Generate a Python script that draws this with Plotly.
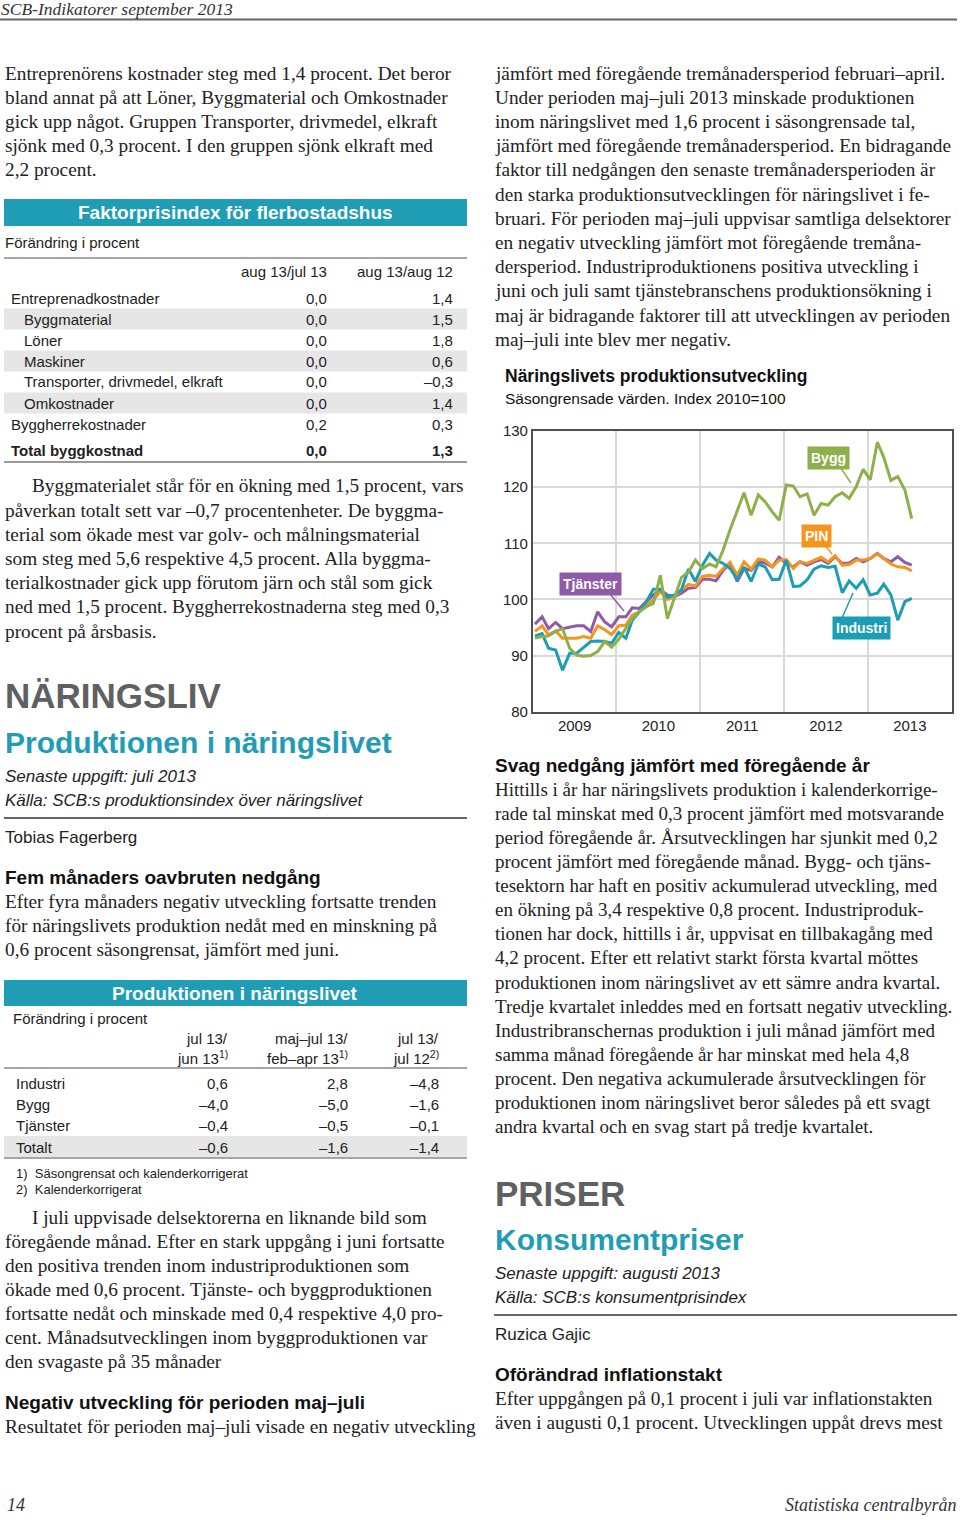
import plotly.graph_objects as go
import pandas as pd

W, H = 960, 1520
SERIF = "Liberation Serif"
SANS = "Liberation Sans"
TEAL = "#1f9db5"

# ---------------- chart data (index 2010=100, monthly Jan 2009 - Jul 2013) ----------------
months = pd.date_range("2009-01-01", periods=55, freq="MS") + pd.Timedelta(days=10)

tjanster = [95.6, 96.9, 94.8, 95.9, 94.8, 95.0, 95.3, 95.3, 94.3, 97.8, 96.0, 95.1,
            96.9, 96.9, 98.5, 98.4, 99.6, 100.8, 101.7, 100.8, 100.5, 101.1, 102.0, 102.1,
            103.6, 103.6, 103.3, 105.2, 106.4, 103.2, 105.5, 105.2, 106.7, 106.5, 105.8, 107.5,
            106.4, 105.8, 106.7, 106.1, 106.7, 107.1, 106.4, 107.6, 106.4, 106.5, 107.3, 106.7,
            107.3, 108.2, 107.3, 106.7, 107.6, 106.6, 106.1]
pin = [94.3, 95.3, 93.7, 94.4, 93.1, 93.1, 93.1, 93.4, 93.1, 95.3, 94.6, 93.7,
       95.3, 95.4, 97.2, 97.8, 99.0, 99.9, 101.4, 100.0, 100.5, 101.7, 102.7, 102.4,
       104.1, 104.3, 104.1, 105.5, 106.6, 104.3, 106.7, 105.4, 107.2, 107.0, 105.8, 107.0,
       107.1, 105.5, 106.7, 106.4, 107.0, 107.5, 106.7, 107.8, 106.1, 106.2, 107.0, 107.0,
       107.3, 108.1, 107.3, 106.3, 105.8, 105.7, 105.1]
industri = [93.5, 93.9, 91.3, 91.0, 87.4, 90.4, 90.4, 91.5, 92.5, 92.6, 92.5, 92.2,
            94.1, 93.1, 96.3, 97.8, 99.6, 101.8, 101.8, 100.4, 100.8, 101.7, 105.4, 103.2,
            106.1, 108.2, 107.0, 106.4, 105.5, 103.6, 105.8, 103.2, 106.3, 105.8, 103.5, 103.6,
            107.0, 102.3, 102.4, 103.5, 105.4, 106.0, 105.7, 105.9, 101.2, 103.3, 102.0, 103.5,
            100.8, 101.1, 102.7, 100.8, 96.3, 99.6, 100.2]
bygg = [93.1, 93.4, 93.5, 94.3, 94.8, 91.3, 90.1, 89.9, 90.0, 90.7, 92.5, 91.5,
        92.9, 94.8, 96.6, 97.8, 98.7, 99.3, 104.3, 96.6, 100.5, 103.9, 104.9, 107.0,
        105.5, 106.3, 105.8, 108.8, 112.4, 115.9, 119.0, 115.0, 118.6, 117.4, 115.6, 114.1,
        120.4, 120.2, 118.3, 118.8, 115.0, 117.1, 116.8, 118.3, 119.0, 118.0, 120.1, 123.2,
        121.3, 128.0, 125.3, 121.2, 121.9, 119.5, 114.4]

series_names = ["Tjänster", "PIN", "Industri", "Bygg"]
series_vals = [tjanster, pin, industri, bygg]
series_cols = ["#8e5ba6", "#f7941d", "#1a9db5", "#8db04a"]

# ---------------- table data ----------------
t1_rows = ["Entreprenadkostnader", "Byggmaterial", "Löner", "Maskiner",
           "Transporter, drivmedel, elkraft", "Omkostnader", "Byggherrekostnader", "Total byggkostnad"]
t1_indent = [0, 1, 1, 1, 1, 1, 0, 0]
t1_col1 = ["0,0", "0,0", "0,0", "0,0", "0,0", "0,0", "0,2", "0,0"]
t1_col2 = ["1,4", "1,5", "1,8", "0,6", "–0,3", "1,4", "0,3", "1,3"]
t1_heads = ["aug 13/jul 13", "aug 13/aug 12"]

t2_rows = ["Industri", "Bygg", "Tjänster", "Totalt"]
t2_col1 = ["0,6", "–4,0", "–0,4", "–0,6"]
t2_col2 = ["2,8", "–5,0", "–0,5", "–1,6"]
t2_col3 = ["–4,8", "–1,6", "–0,1", "–1,4"]
t2_heads = [("jul 13/", "jun 13<sup>1)</sup>"), ("maj–jul 13/", "feb–apr 13<sup>1)</sup>"),
            ("jul 13/", "jul 12<sup>2)</sup>")]

fig = go.Figure()
for name, vals, col in zip(series_names, series_vals, series_cols):
    fig.add_trace(go.Scatter(x=months, y=vals, mode="lines", name=name,
                             line=dict(color=col, width=3), hoverinfo="skip"))


def px(x):
    return x / W


def py(y):
    return 1 - y / H


annotations = []
shapes = []


def txt(x, y, s, size, family=SANS, color="#222", anchor="left"):
    annotations.append(dict(xref="paper", yref="paper", x=px(x), y=py(y), text=s,
                            showarrow=False, xanchor=anchor, yanchor="middle",
                            font=dict(family=family, size=size, color=color)))


def hline(x0, x1, y, color="#777", width=1.5):
    shapes.append(dict(type="line", xref="paper", yref="paper", x0=px(x0), x1=px(x1),
                       y0=py(y), y1=py(y), line=dict(color=color, width=width)))


def rect(x0, x1, y0, y1, color):
    shapes.append(dict(type="rect", xref="paper", yref="paper", x0=px(x0), x1=px(x1),
                       y0=py(y1), y1=py(y0), fillcolor=color, line=dict(width=0), layer="below"))


def para(x, y0, lines, step=24.2, size=19.3, indent_first=0):
    for i, s in enumerate(lines):
        txt(x + (indent_first if i == 0 else 0), y0 + i * step, s, size, SERIF, "#222")


# ---------------- page header / footer ----------------
txt(-1, 9.5, "<i>SCB-Indikatorer september 2013</i>", 17.5, SERIF, "#333")
hline(0, 957, 19.5, "#666", 2)
txt(5, 1505, "<i>14</i>", 18, SERIF, "#333")
txt(958, 1505, "<i>Statistiska centralbyrån</i>", 18, SERIF, "#333", anchor="right")

# ---------------- left column ----------------
para(3, 73, ["Entreprenörens kostnader steg med 1,4 procent. Det beror",
             "bland annat på att Löner, Byggmaterial och Omkostnader",
             "gick upp något. Gruppen Transporter, drivmedel, elkraft",
             "sjönk med 0,3 procent. I den gruppen sjönk elkraft med",
             "2,2 procent."])

rect(4, 467, 199, 226, TEAL)
txt(235, 212.5, "<b>Faktorprisindex för flerbostadshus</b>", 19, SANS, "white", anchor="center")
txt(3, 242, "Förändring i procent", 15, SANS, "#222")
hline(4, 467, 258, "#888", 1.5)
txt(329, 271, t1_heads[0], 15, SANS, "#222", anchor="right")
txt(455, 271, t1_heads[1], 15, SANS, "#222", anchor="right")
t1_y = [298, 319, 340, 361, 382, 403, 425, 451]
for i, (lab, ind, a, b) in enumerate(zip(t1_rows, t1_indent, t1_col1, t1_col2)):
    if i in (1, 3, 5):
        rect(4, 467, t1_y[i] - 10.5, t1_y[i] + 10.5, "#e6e6e6")
    bold = i == len(t1_rows) - 1
    f = (lambda s: "<b>" + s + "</b>") if bold else (lambda s: s)
    txt(9 + 13 * ind, t1_y[i], f(lab), 15, SANS, "#222")
    txt(329, t1_y[i], f(a), 15, SANS, "#222", anchor="right")
    txt(455, t1_y[i], f(b), 15, SANS, "#222", anchor="right")
hline(4, 467, 462, "#777", 1.5)

para(3, 486, ["Byggmaterialet står för en ökning med 1,5 procent, vars",
              "påverkan totalt sett var –0,7 procentenheter. De byggma-",
              "terial som ökade mest var golv- och målningsmaterial",
              "som steg med 5,6 respektive 4,5 procent. Alla byggma-",
              "terialkostnader gick upp förutom järn och stål som gick",
              "ned med 1,5 procent. Byggherrekostnaderna steg med 0,3",
              "procent på årsbasis."], indent_first=27)

txt(3, 695, "<b>NÄRINGSLIV</b>", 35, SANS, "#5f6062")
txt(3, 742, "<b>Produktionen i näringslivet</b>", 30, SANS, TEAL)
txt(3, 776, "<i>Senaste uppgift: juli 2013</i>", 17, SANS, "#222")
txt(3, 801, "<i>Källa: SCB:s produktionsindex över näringslivet</i>", 17, SANS, "#222")
hline(4, 467, 818, "#666", 2)
txt(3, 837, "Tobias Fagerberg", 17, SANS, "#222")
txt(3, 877, "<b>Fem månaders oavbruten nedgång</b>", 19, SANS, "#111")
para(3, 901, ["Efter fyra månaders negativ utveckling fortsatte trenden",
              "för näringslivets produktion nedåt med en minskning på",
              "0,6 procent säsongrensat, jämfört med juni."])

rect(4, 467, 980, 1006, TEAL)
txt(235, 993, "<b>Produktionen i näringslivet</b>", 19, SANS, "white", anchor="center")
txt(11, 1018, "Förändring i procent", 15, SANS, "#222")
t2_x = [230, 350, 441]
for (h1, h2), xx in zip(t2_heads, t2_x):
    txt(xx, 1038, h1, 15, SANS, "#222", anchor="right")
    txt(xx, 1057, h2, 15, SANS, "#222", anchor="right")
hline(4, 467, 1068, "#888", 1.5)
t2_y = [1083, 1104, 1125, 1147]
rect(4, 467, 1136, 1157, "#e6e6e6")
for i, lab in enumerate(t2_rows):
    txt(14, t2_y[i], lab, 15, SANS, "#222")
    for col, xx in zip([t2_col1, t2_col2, t2_col3], t2_x):
        txt(xx, t2_y[i], col[i], 15, SANS, "#222", anchor="right")
hline(4, 467, 1158, "#888", 1.5)
txt(14, 1173, "1)  Säsongrensat och kalenderkorrigerat", 13, SANS, "#222")
txt(14, 1189, "2)  Kalenderkorrigerat", 13, SANS, "#222")

para(3, 1217, ["I juli uppvisade delsektorerna en liknande bild som",
               "föregående månad. Efter en stark uppgång i juni fortsatte",
               "den positiva trenden inom industriproduktionen som",
               "ökade med 0,6 procent. Tjänste- och byggproduktionen",
               "fortsatte nedåt och minskade med 0,4 respektive 4,0 pro-",
               "cent. Månadsutvecklingen inom byggproduktionen var",
               "den svagaste på 35 månader"], step=24, indent_first=27)
txt(3, 1402, "<b>Negativ utveckling för perioden maj–juli</b>", 19, SANS, "#111")
para(3, 1426, ["Resultatet för perioden maj–juli visade en negativ utveckling"])

# ---------------- right column ----------------
para(493, 73, ["jämfört med föregående tremånadersperiod februari–april.",
               "Under perioden maj–juli 2013 minskade produktionen",
               "inom näringslivet med 1,6 procent i säsongrensade tal,",
               "jämfört med föregående tremånadersperiod. En bidragande",
               "faktor till nedgången den senaste tremånadersperioden är",
               "den starka produktionsutvecklingen för näringslivet i fe-",
               "bruari. För perioden maj–juli uppvisar samtliga delsektorer",
               "en negativ utveckling jämfört mot föregående tremåna-",
               "dersperiod. Industriproduktionens positiva utveckling i",
               "juni och juli samt tjänstebranschens produktionsökning i",
               "maj är bidragande faktorer till att utvecklingen av perioden",
               "maj–juli inte blev mer negativ."])

txt(503, 376, "<b>Näringslivets produktionsutveckling</b>", 17.5, SANS, "#111")
txt(503, 398, "Säsongrensade värden. Index 2010=100", 15.5, SANS, "#111")

txt(493, 765, "<b>Svag nedgång jämfört med föregående år</b>", 19, SANS, "#111")
para(493, 789, ["Hittills i år har näringslivets produktion i kalenderkorrige-",
                "rade tal minskat med 0,3 procent jämfört med motsvarande",
                "period föregående år. Årsutvecklingen har sjunkit med 0,2",
                "procent jämfört med föregående månad. Bygg- och tjäns-",
                "tesektorn har haft en positiv ackumulerad utveckling, med",
                "en ökning på 3,4 respektive 0,8 procent. Industriproduk-",
                "tionen har dock, hittills i år, uppvisat en tillbakagång med",
                "4,2 procent. Efter ett relativt starkt första kvartal möttes",
                "produktionen inom näringslivet av ett sämre andra kvartal.",
                "Tredje kvartalet inleddes med en fortsatt negativ utveckling.",
                "Industribranschernas produktion i juli månad jämfört med",
                "samma månad föregående år har minskat med hela 4,8",
                "procent. Den negativa ackumulerade årsutvecklingen för",
                "produktionen inom näringslivet beror således på ett svagt",
                "andra kvartal och en svag start på tredje kvartalet."], step=24.14, size=19)

txt(493, 1193, "<b>PRISER</b>", 35, SANS, "#5f6062")
txt(493, 1239, "<b>Konsumentpriser</b>", 30, SANS, TEAL)
txt(493, 1273, "<i>Senaste uppgift: augusti 2013</i>", 17, SANS, "#222")
txt(493, 1297, "<i>Källa: SCB:s konsumentprisindex</i>", 17, SANS, "#222")
hline(494, 957, 1315, "#666", 2)
txt(493, 1334, "Ruzica Gajic", 17, SANS, "#222")
txt(493, 1374, "<b>Oförändrad inflationstakt</b>", 19, SANS, "#111")
para(493, 1398, ["Efter uppgången på 0,1 procent i juli var inflationstakten",
                 "även i augusti 0,1 procent. Utvecklingen uppåt drevs mest"])

labels = [("Tjänster", 590.5, 584.5, "#8e5ba6", (610, 594, 624, 611)),
          ("PIN", 816, 535.5, "#f7941d", (825, 545, 832, 554)),
          ("Bygg", 828, 457.5, "#8db04a", (840, 467, 851, 483)),
          ("Industri", 861, 628, "#1a9db5", (842, 618, 853, 593))]
for lab, cx, cy, col, (x0, y0, x1, y1) in labels:
    shapes.append(dict(type="line", xref="paper", yref="paper", x0=px(x0), y0=py(y0),
                       x1=px(x1), y1=py(y1), line=dict(color=col, width=1.5)))
    annotations.append(dict(xref="paper", yref="paper", x=px(cx), y=py(cy),
                            text="<b>" + lab + "</b>", showarrow=False,
                            xanchor="center", yanchor="middle", bgcolor=col, borderpad=3,
                            font=dict(family=SANS, size=14, color="white")))

fig.update_layout(
    width=W, height=H, autosize=False,
    margin=dict(l=0, r=0, t=0, b=0, pad=0, autoexpand=False),
    paper_bgcolor="white", plot_bgcolor="white", showlegend=False,
    annotations=annotations, shapes=shapes,
    xaxis=dict(domain=[px(532.7), px(951.7)], type="date",
               range=["2009-01-01", "2014-01-01"], dtick="M12", tick0="2009-01-01",
               ticklabelmode="period", tickformat="%Y", showgrid=True,
               gridcolor="#d9d9d9", gridwidth=1.5, ticks="", showline=True,
               linecolor="#505050", linewidth=1.5, mirror=True, automargin=False,
               tickfont=dict(family=SANS, size=15, color="#222"), fixedrange=True),
    yaxis=dict(domain=[py(711.7), py(431)], range=[80, 130], dtick=10, tick0=80,
               showgrid=True, gridcolor="#d9d9d9", gridwidth=1.5, ticks="",
               showline=True, linecolor="#505050", linewidth=1.5, mirror=True,
               zeroline=False, automargin=False,
               tickfont=dict(family=SANS, size=15, color="#222"), fixedrange=True),
)

fig.write_html(
    "out.html",
    config={"responsive": False, "displayModeBar": False},
    post_script=("document.documentElement.style.margin='0';"
                 "document.body.style.margin='0';document.body.style.padding='0';"
                 "document.body.style.overflow='hidden';"
                 "var gd=document.getElementById('{plot_id}');"
                 "gd.style.position='absolute';gd.style.top='0px';gd.style.left='0px';"),
)
